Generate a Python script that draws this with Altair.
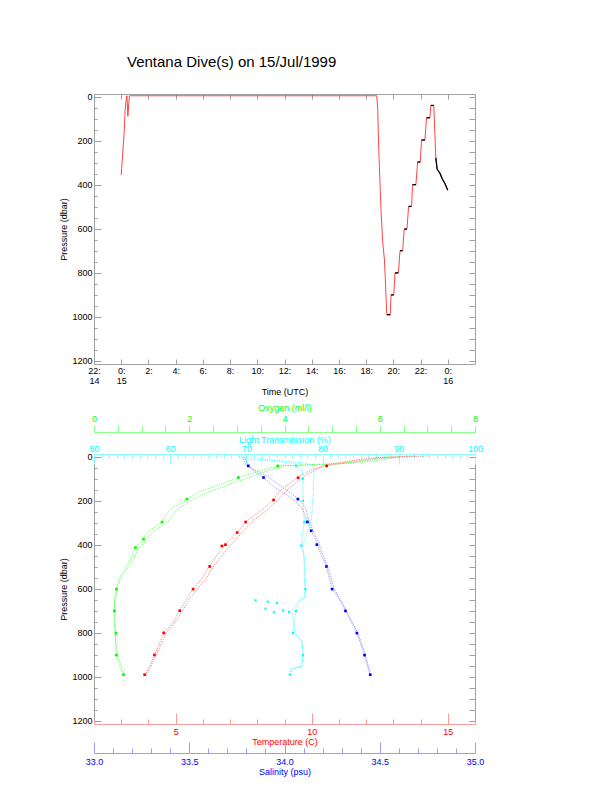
import altair as alt
import pandas as pd

FONT = "Liberation Sans"
GRAY = "#a0a0a0"
RED, GREEN, CYAN, BLUE = "#ff0000", "#00ff00", "#00ffff", "#0000ff"
LRED, LGREEN, LCYAN, LBLUE = "#ff9a9a", "#8cff8c", "#8cffff", "#9a9aff"

# ---------------- top panel: ROV pressure vs time (hours after 00:00 UTC 15/Jul) -------------
track_time = [0.0, 0.12, 0.22, 0.29, 0.37, 0.42, 0.49, 0.56, 0.61, 6.0, 12.0, 18.78,
              18.85, 18.9, 18.97, 19.1, 19.22, 19.34, 19.41, 19.46, 19.52, 19.77, 19.83, 20.03,
              20.12, 20.37, 20.49, 20.68, 20.8, 21.0, 21.12, 21.34, 21.41, 21.66, 21.78, 21.98,
              22.07, 22.32, 22.44, 22.69, 22.75, 22.97, 23.12, 23.22, 23.44, 23.61, 23.76, 24.0]
track_pres = [355, 246, 156, 57, 12, -5, 88, 25, -5, -5, -5, -5,
              57, 178, 314, 525, 661, 737, 827, 910, 990, 990, 900, 900,
              800, 800, 699, 699, 601, 601, 498, 498, 399, 399, 296, 296,
              196, 196, 95, 95, 39, 39, 277, 329, 349, 375, 390, 424]
stop_t0 = [19.52, 19.83, 20.12, 20.49, 20.8, 21.12, 21.41, 21.78, 22.07, 22.44, 22.75]
stop_t1 = [19.77, 20.03, 20.37, 20.68, 21.0, 21.34, 21.66, 21.98, 22.32, 22.69, 22.97]
stop_p = [990, 900, 800, 699, 601, 498, 399, 296, 196, 95, 39]
final_start = 23.12

time_ticks = list(range(-2, 25, 2))
pres_labels = [0, 200, 400, 600, 800, 1000, 1200]
pres_ticks = list(range(0, 1201, 50))

# ---------------- bottom panel: CTD profiles -------------
temp_p = [-4, 0, 5, 15, 26, 41, 56, 86, 131, 154, 192, 238, 295, 344, 397, 450, 495, 556, 601, 647,
          700, 753, 801, 850, 901, 950, 995]
temp_a = [14.3, 13.5, 12.5, 11.9, 11.3, 10.55, 10.05, 9.56, 9.07, 8.83, 8.6, 8.2, 7.57, 7.26, 6.83,
          6.5, 6.25, 5.95, 5.64, 5.4, 5.15, 4.9, 4.56, 4.4, 4.22, 4.05, 3.86]
temp_b = [13.8, 13.0, 12.2, 11.6, 11.0, 10.4, 10.2, 9.75, 9.3, 9.05, 8.8, 8.4, 7.8, 7.45, 7.05,
          6.7, 6.4, 6.1, 5.8, 5.5, 5.25, 4.98, 4.65, 4.48, 4.28, 4.1, 3.9]
temp_stop_p = [41, 95, 196, 296, 344, 399, 405, 498, 601, 699, 800, 900, 990]
temp_stop_v = [10.55, 9.5, 8.6, 7.57, 7.26, 6.83, 6.7, 6.25, 5.64, 5.15, 4.56, 4.22, 3.86]

sal_p = [0, 20, 41, 70, 94, 139, 189, 230, 291, 336, 389, 420, 495, 550, 598, 650, 700, 750, 801,
         850, 901, 950, 995]
sal_a = [33.79, 33.8, 33.81, 33.85, 33.89, 33.95, 34.04, 34.09, 34.12, 34.14, 34.17, 34.18, 34.22,
         34.235, 34.25, 34.29, 34.32, 34.35, 34.38, 34.40, 34.42, 34.435, 34.45]
sal_b = [33.78, 33.79, 33.80, 33.87, 33.92, 33.99, 34.07, 34.11, 34.13, 34.15, 34.18, 34.19, 34.225,
         34.245, 34.26, 34.295, 34.325, 34.355, 34.385, 34.405, 34.425, 34.44, 34.455]
sal_stop_p = [41, 94, 192, 296, 336, 399, 498, 601, 700, 801, 901, 990]
sal_stop_v = [33.81, 33.89, 34.07, 34.12, 34.14, 34.17, 34.22, 34.25, 34.32, 34.38, 34.42, 34.45]

oxy_p = [0, 5, 15, 26, 33, 38, 41, 50, 63, 94, 131, 160, 192, 238, 295, 344, 374, 412, 465, 520,
         556, 601, 650, 700, 751, 801, 850, 901, 956, 995]
oxy_a = [6.4, 6.3, 6.0, 5.6, 5.0, 4.4, 3.86, 3.7, 3.49, 3.03, 2.58, 2.2, 1.95, 1.6, 1.43, 1.11, 1.04,
         0.87, 0.76, 0.62, 0.52, 0.47, 0.43, 0.43, 0.43, 0.46, 0.45, 0.47, 0.54, 0.62]
oxy_b = [6.2, 6.1, 5.8, 5.4, 4.8, 4.2, 3.95, 3.85, 3.65, 3.25, 2.78, 2.4, 2.1, 1.75, 1.55, 1.22, 1.12,
         0.95, 0.82, 0.66, 0.55, 0.49, 0.44, 0.42, 0.42, 0.45, 0.46, 0.5, 0.58, 0.65]
oxy_stop_p = [41, 94, 192, 296, 374, 412, 601, 700, 801, 901, 990]
oxy_stop_v = [3.86, 3.03, 1.95, 1.43, 1.04, 0.87, 0.47, 0.43, 0.46, 0.47, 0.62]

lt_p = [0, 10, 20, 30, 41, 60, 100, 150, 200, 250, 291, 344, 404, 450, 500, 550, 601, 640, 655, 700,
        750, 801, 836, 870, 901, 950, 965, 995]
lt_a = [69.0, 70.0, 74.0, 76.5, 76.5, 77.3, 77.4, 77.4, 77.5, 77.5, 77.6, 77.4, 77.2, 77.6, 77.7,
        77.7, 77.75, 77.7, 77.0, 76.5, 76.3, 76.1, 77.3, 77.4, 77.4, 77.3, 75.8, 75.7]
lt_b = [70.5, 72.0, 75.5, 78.0, 78.8, 78.9, 78.8, 78.8, 78.7, 78.6, 78.5, 78.0, 77.4, 77.5, 77.6,
        77.6, 77.7, 77.6, 76.8, 76.0, 76.2, 76.4, 77.2, 77.4, 77.5, 77.2, 76.0, 75.9]
lt_stop_p = [41, 100, 200, 296, 404, 601, 700, 801, 901, 990]
lt_stop_v = [76.5, 77.4, 77.4, 77.6, 77.2, 77.75, 76.5, 76.1, 77.4, 75.7]
lt_scat_p = [652, 658, 664, 690, 698, 704, 706]
lt_scat_v = [71.2, 72.8, 74.0, 72.5, 74.8, 75.6, 73.6]

temp_ticks = list(range(2, 17))
sal_ticks = [round(33 + i * 0.1, 1) for i in range(21)]
oxy_ticks = [i * 0.5 for i in range(17)]
lt_ticks = list(range(50, 101))

W, H = 381, 270
YDOM = [-13, 1214]


def yscale():
    return alt.Scale(domain=YDOM, reverse=True, nice=False, zero=False)


def xscale(dom):
    return alt.Scale(domain=dom, nice=False, zero=False)


def tick_axis(orient, offset, values, size, color=GRAY, domain_color=None):
    kw = dict(orient=orient, offset=offset, values=values, tickSize=size, tickColor=color,
              labels=False, title=None, grid=False)
    if domain_color:
        kw.update(domain=True, domainColor=domain_color)
    else:
        kw.update(domain=False)
    return alt.Axis(**kw)


major_pres = {"condition": {"test": "datum.value % 200 === 0", "value": 7}, "value": 3}
DASH = [1.2, 1.2]

# ---------- top chart ----------
track_df = pd.DataFrame({"t": track_time, "p": track_pres, "i": range(len(track_time))})
rows = []
for k, (a, b, p) in enumerate(zip(stop_t0, stop_t1, stop_p)):
    rows += [{"t": a, "p": p, "seg": k, "i": 0}, {"t": b, "p": p, "seg": k, "i": 1}]
for j, (t, p) in enumerate(zip(track_time, track_pres)):
    if t >= final_start:
        rows.append({"t": t, "p": p, "seg": 99, "i": j})
black_df = pd.DataFrame(rows)

time_label = ("datum.value == -2 ? ['22:', '14'] : datum.value == 0 ? ['0:', '15'] : "
              "datum.value == 24 ? ['0:', '16'] : datum.value + ':'")

tdom = [-2, 26]
red_line = alt.Chart(track_df).mark_line(color="#ff3030", strokeWidth=0.9).encode(
    x=alt.X("t:Q", scale=xscale(tdom), axis=alt.Axis(
        orient="bottom", values=time_ticks, labelExpr=time_label, ticks=False, tickSize=0,
        domain=False, grid=False, labelPadding=2, labelLineHeight=10, labelBaseline="top",
        title="Time (UTC)", titleY=27, titleBaseline="middle")),
    y=alt.Y("p:Q", scale=yscale(), axis=alt.Axis(
        orient="left", values=pres_labels, format="d", ticks=False, tickSize=0, domain=False,
        grid=False, labelPadding=2, title="Pressure (dbar)", titleX=-31, titleBaseline="middle")),
    order="i:Q",
)
black_line = alt.Chart(black_df).mark_line(color="black", strokeWidth=1.3).encode(
    x=alt.X("t:Q", scale=xscale(tdom), axis=tick_axis("top", -H, time_ticks, 5)),
    y=alt.Y("p:Q", scale=yscale(), axis=tick_axis("right", -W, pres_ticks, major_pres)),
    detail="seg:N", order="i:Q",
)
frame_line = alt.Chart(track_df).mark_line(opacity=0).encode(
    x=alt.X("t:Q", scale=xscale(tdom), axis=tick_axis("bottom", -H, time_ticks, 5)),
    y=alt.Y("p:Q", scale=yscale(), axis=tick_axis("left", -W, pres_ticks, 6)),
    order="i:Q",
)
top = alt.layer(red_line, black_line, frame_line).resolve_scale(
    x="independent", y="independent").properties(
    width=W, height=H,
    title=alt.TitleParams("Ventana Dive(s) on 15/Jul/1999", anchor="start", frame="group", dx=33,
                          offset=11, baseline="alphabetic", fontSize=15, fontWeight="normal",
                          font=FONT, color="black"))


# ---------- bottom chart ----------
def prof(p, a, b):
    return pd.DataFrame({"p": p * 2, "v": a + b, "cast": ["a"] * len(a) + ["b"] * len(b)})


def pts(p, v):
    return pd.DataFrame({"p": p, "v": v})


TDOM, SDOM, ODOM, LDOM = [2, 16], [33, 35], [0, 8], [50, 100]

t_line = alt.Chart(prof(temp_p, temp_a, temp_b)).mark_line(
    color=RED, strokeWidth=0.9, opacity=0.55, strokeDash=DASH).encode(
    x=alt.X("v:Q", scale=xscale(TDOM), axis=alt.Axis(
        orient="bottom", values=[5, 10, 15], ticks=False, tickSize=0, domain=False, grid=False,
        labelPadding=3, labelColor=RED, title="Temperature (C)", titleColor=RED, titleY=17,
        titleBaseline="middle")),
    y=alt.Y("p:Q", scale=yscale(), axis=alt.Axis(
        orient="left", values=pres_labels, format="d", ticks=False, tickSize=0, domain=False,
        grid=False, labelPadding=2, title="Pressure (dbar)", titleX=-31, titleBaseline="middle")),
    detail="cast:N", order="p:Q",
)
s_line = alt.Chart(prof(sal_p, sal_a, sal_b)).mark_line(
    color=BLUE, strokeWidth=0.9, opacity=0.45, strokeDash=DASH).encode(
    x=alt.X("v:Q", scale=xscale(SDOM), axis=alt.Axis(
        orient="bottom", offset=29, values=[33.0, 33.5, 34.0, 34.5, 35.0], format=".1f",
        ticks=False, tickSize=0, domain=False, grid=False, labelPadding=4, labelColor=BLUE,
        title="Salinity (psu)", titleColor=BLUE, titleY=18, titleBaseline="middle")),
    y=alt.Y("p:Q", scale=yscale(), axis=tick_axis("left", -W, pres_ticks, 6)),
    detail="cast:N", order="p:Q",
)
o_line = alt.Chart(prof(oxy_p, oxy_a, oxy_b)).mark_line(
    color=GREEN, strokeWidth=0.9, opacity=0.65, strokeDash=DASH).encode(
    x=alt.X("v:Q", scale=xscale(ODOM), axis=alt.Axis(
        orient="top", offset=22, values=oxy_ticks, tickSize=7, tickColor=LGREEN,
        domain=True, domainColor=LGREEN, grid=False, labelPadding=2, labelColor=GREEN,
        labelExpr="datum.value % 2 === 0 ? format(datum.value, 'd') : ''",
        title="Oxygen (ml/l)", titleColor=GREEN, titleY=-25, titleBaseline="middle")),
    y=alt.Y("p:Q", scale=yscale(), axis=None),
    detail="cast:N", order="p:Q",
)
l_line = alt.Chart(prof(lt_p, lt_a, lt_b)).mark_line(
    color=CYAN, strokeWidth=0.9, opacity=0.75, strokeDash=DASH).encode(
    x=alt.X("v:Q", scale=xscale(LDOM), axis=alt.Axis(
        orient="top", values=list(range(50, 101, 10)), ticks=False, tickSize=0, domain=False,
        grid=False, labelPadding=1, labelColor=CYAN, title="Light Transmission (%)",
        titleColor=CYAN, titleY=-15, titleBaseline="middle")),
    y=alt.Y("p:Q", scale=yscale(), axis=None),
    detail="cast:N", order="p:Q",
)
t_pts = alt.Chart(pts(temp_stop_p, temp_stop_v)).mark_square(color=RED, size=7, opacity=1).encode(
    x=alt.X("v:Q", scale=xscale(TDOM), axis=tick_axis(
        "top", -H, temp_ticks,
        {"condition": {"test": "datum.value % 5 === 0", "value": 11}, "value": 5},
        color=LRED, domain_color=LRED)),
    y=alt.Y("p:Q", scale=yscale(), axis=tick_axis("right", -W, pres_ticks, major_pres)),
)
s_pts = alt.Chart(pts(sal_stop_p, sal_stop_v)).mark_square(color=BLUE, size=7, opacity=1).encode(
    x=alt.X("v:Q", scale=xscale(SDOM), axis=tick_axis(
        "top", -(H + 29), sal_ticks,
        {"condition": {"test": "abs(datum.value * 2 - round(datum.value * 2)) < 0.001", "value": 11},
         "value": 5},
        color=LBLUE, domain_color=LBLUE)),
    y=alt.Y("p:Q", scale=yscale(), axis=None),
)
o_pts = alt.Chart(pts(oxy_stop_p, oxy_stop_v)).mark_square(color=GREEN, size=7, opacity=1).encode(
    x=alt.X("v:Q", scale=xscale(ODOM), axis=None),
    y=alt.Y("p:Q", scale=yscale(), axis=None),
)
l_pts = alt.Chart(pts(lt_stop_p + lt_scat_p, lt_stop_v + lt_scat_v)).mark_square(
    color=CYAN, size=5, opacity=1).encode(
    x=alt.X("v:Q", scale=xscale(LDOM), axis=tick_axis(
        "bottom", -H, lt_ticks,
        {"condition": {"test": "datum.value % 10 === 0", "value": 10}, "value": 4},
        color=LCYAN, domain_color=LCYAN)),
    y=alt.Y("p:Q", scale=yscale(), axis=None),
)

bottom = alt.layer(t_line, s_line, o_line, l_line, t_pts, s_pts, o_pts, l_pts).resolve_scale(
    x="independent", y="independent").properties(width=W, height=H)

chart = alt.vconcat(top, bottom, spacing=90, bounds="flush").properties(
    padding={"left": 50, "top": 46, "right": 5, "bottom": 5}
).configure(font=FONT).configure_view(stroke=GRAY, strokeWidth=1).configure_axis(
    labelFont=FONT, titleFont=FONT, labelFontSize=9, titleFontSize=9, titleFontWeight="normal",
    labelColor="black", titleColor="black", grid=False, labelFlush=False, labelOverlap=False,
    tickColor=GRAY, domainColor=GRAY)

chart.save("out.html", embed_options={"renderer": "svg", "actions": False})
